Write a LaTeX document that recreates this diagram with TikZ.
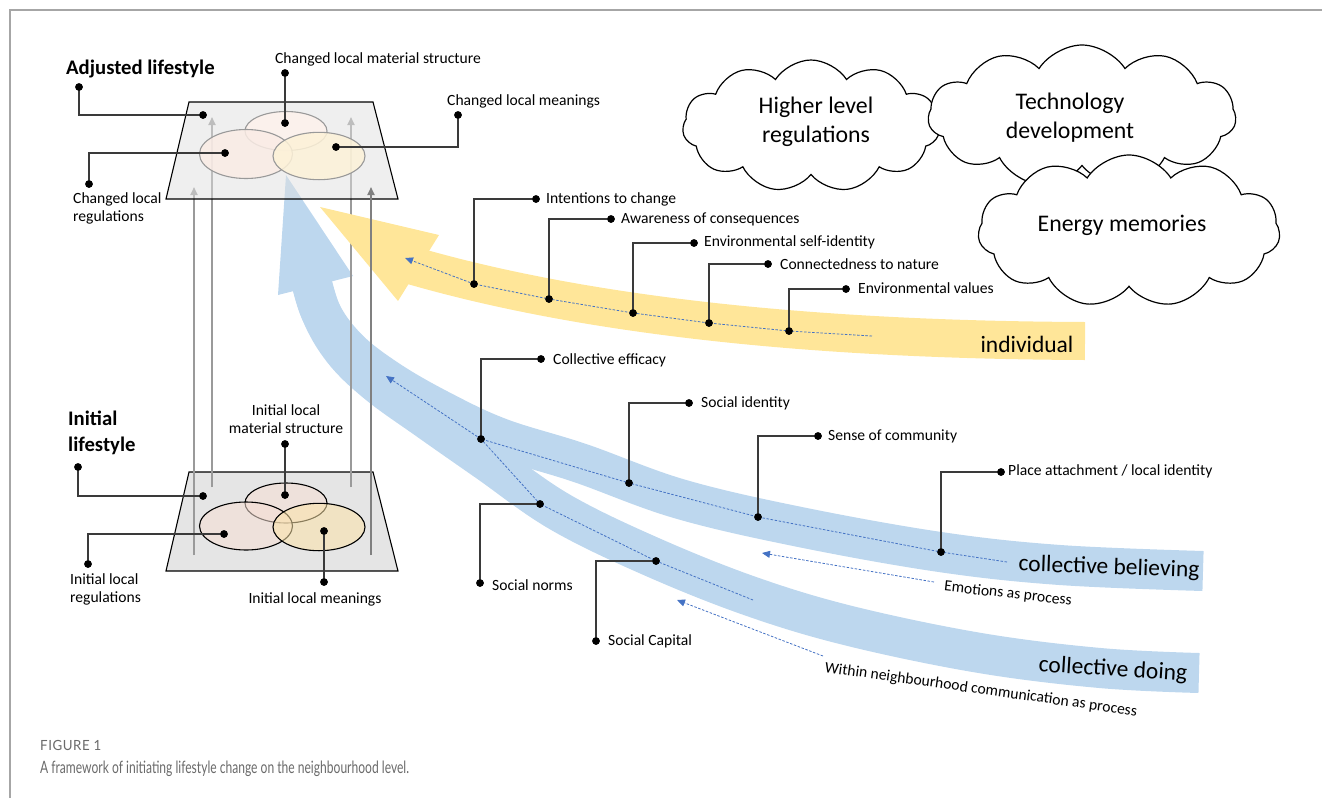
\documentclass[tikz,border=0pt]{standalone}
\usepackage{fontspec}
\setmainfont{Carlito}
\newfontfamily\capfont[FakeStretch=0.71]{Lato}
\newfontfamily\figfont[FakeStretch=0.95,LetterSpace=4]{Lato}
\usetikzlibrary{arrows.meta,shapes.symbols}
\definecolor{bblue}{HTML}{BDD7EE}
\definecolor{byel}{HTML}{FFE699}
\definecolor{dblue}{HTML}{4472C4}
\definecolor{framegray}{HTML}{A6A6A6}
\definecolor{vgray}{HTML}{9A9A9A}
\definecolor{leadc}{HTML}{3A3A3A}
\definecolor{capgray}{HTML}{6A6A6A}
\definecolor{ellA}{HTML}{F6DFD4}
\definecolor{ellB}{HTML}{FBE3A8}
\tikzset{
  dot/.style={circle,fill=black,inner sep=0pt,minimum size=7.5pt},
  leader/.style={draw=leadc,line width=1.2pt},
  lbl/.style={font=\fontsize{15.6}{18}\selectfont,inner sep=0pt,anchor=west},
  title/.style={font=\bfseries\fontsize{20.7}{26}\selectfont,inner sep=0pt,anchor=west,align=left},
  cloudtxt/.style={font=\fontsize{23.8}{29}\selectfont,align=center,inner sep=0pt},
  bandtxt/.style={font=\fontsize{23.5}{28}\selectfont,inner sep=0pt},
  dasharrow/.style={draw=dblue,line width=0.8pt,dash pattern=on 2.5pt off 1.6pt,-{Triangle[length=8pt,width=7pt]}},
  dashline/.style={draw=dblue,line width=0.8pt,dash pattern=on 2.5pt off 1.6pt},
  varrow/.style={draw=vgray,line width=1.8pt,-{Triangle[length=8pt,width=7pt]}},
  mycloud/.style={cloud,draw=black,line width=1.2pt,fill=white,cloud puffs=11,cloud puff arc=115,cloud ignores aspect,inner sep=0pt},
}
\begin{document}
\begin{tikzpicture}[x=1pt,y=-1pt]
\useasboundingbox (0,0) rectangle (1322,798);
% frame
\draw[framegray,line width=1.5pt] (10,798) -- (10,10) -- (1322,10);

% bottom trapezoid
\fill[fill=black!10,draw=black,line width=1.1pt] (189,472) -- (373,472) -- (398,571) -- (166,571) -- cycle;
\draw[black,line width=1.1pt,fill=ellA,fill opacity=0.55] (286,503) ellipse [x radius=41pt,y radius=20pt];
\draw[black,line width=1.1pt,fill=ellA,fill opacity=0.55] (246,526) ellipse [x radius=46.5pt,y radius=24pt];
\draw[black,line width=1.1pt,fill=ellB,fill opacity=0.55] (319,527) ellipse [x radius=46pt,y radius=23.7pt];

% blue bands
\fill[bblue] (286,175) -- (353,276) -- (278,295) -- cycle;
\draw[bblue,line width=40pt] plot[smooth,tension=0.6] coordinates {(306,258) (320,310) (347,348) (388,380) (440,410) (500,438) (580,463) (680,499) (800,527) (940,552) (1060,565) (1203,571)};
\draw[bblue,line width=40pt] plot[smooth,tension=0.6] coordinates {(306,258) (320,310) (343,350) (378,384) (428,420) (488,462) (560,512) (650,556) (750,596) (850,626) (980,653) (1100,668) (1199,673)};

% vertical arrows (behind)
\coordinate (va1) at (194,555); \coordinate (vb1) at (194,187);
\coordinate (va2) at (212,487); \coordinate (vb2) at (212,117);
\coordinate (va3) at (351,487); \coordinate (vb3) at (351,117);
\coordinate (va4) at (371,555); \coordinate (vb4) at (371,187);
\draw[varrow] (va1) -- (vb1);
\draw[varrow] (va2) -- (vb2);
\draw[varrow] (va3) -- (vb3);

% yellow band
\fill[byel] (320,207) -- (439,235) -- (398,301) -- cycle;
\draw[byel,line width=38pt] (400,262) .. controls (600,322) and (850,340) .. (1085,341);

% top trapezoid
\fill[fill=black!12,fill opacity=0.5] (189,102) -- (373,102) -- (398,199) -- (166,199) -- cycle;
\draw[black,line width=1.1pt] (189,102) -- (373,102) -- (398,199) -- (166,199) -- cycle;
\draw[black!40,line width=1.1pt,fill=ellA!45] (286,131) ellipse [x radius=41pt,y radius=19.5pt];
\draw[black!40,line width=1.1pt,fill=ellA!60,fill opacity=0.85] (246,154) ellipse [x radius=46.5pt,y radius=24.5pt];
\draw[black!40,line width=1.1pt,fill=ellB!45,fill opacity=0.85] (319,156) ellipse [x radius=46pt,y radius=23.7pt];
\draw[varrow,draw=black!50] (va4) -- (vb4);

% clouds
\node[mycloud,minimum width=257pt,minimum height=132pt] (c1) at (811,126) {};
\node[mycloud,minimum width=308pt,minimum height=142pt] (c2) at (1082,116) {};
\node[mycloud,minimum width=302pt,minimum height=152pt] (c3) at (1129,231) {};
\node[cloudtxt] (t1) at (816,122) {Higher level\\regulations};
\node[cloudtxt] (t2) at (1070,118) {Technology\\development};
\node[cloudtxt] (t3) at (1122,225) {Energy memories};

% titles
\node[title] (adj) at (66,69) {Adjusted lifestyle};
\node[title] (ini) at (68,433) {Initial\\lifestyle};

% dots top
\node[dot] (a1) at (79,87) {};
\node[dot] (a2) at (203,115) {};
\node[dot] (m1) at (285,73) {};
\node[dot] (m2) at (285,123) {};
\node[dot] (g1) at (458,115) {};
\node[dot] (g2) at (336,147) {};
\node[dot] (r1) at (89,184) {};
\node[dot] (r2) at (225,153) {};
% dots bottom
\node[dot] (b1) at (78,467) {};
\node[dot] (b2) at (203,496) {};
\node[dot] (bm1) at (285,444) {};
\node[dot] (bm2) at (285,495) {};
\node[dot] (br1) at (88,564) {};
\node[dot] (br2) at (224,534) {};
\node[dot] (bg1) at (324,582) {};
\node[dot] (bg2) at (324,531) {};

% individual dots
\node[dot] (i1) at (474,284) {};
\node[dot] (i2) at (549,299) {};
\node[dot] (i3) at (633,313) {};
\node[dot] (i4) at (709,323) {};
\node[dot] (i5) at (789,331) {};
\node[dot] (il1) at (536,199) {};
\node[dot] (il2) at (611,219) {};
\node[dot] (il3) at (694,243) {};
\node[dot] (il4) at (768,264) {};
\node[dot] (il5) at (846,289) {};
% collective dots
\node[dot] (ce) at (481,439) {};
\node[dot] (si) at (629,483) {};
\node[dot] (sc) at (758,517) {};
\node[dot] (pa) at (941,552) {};
\node[dot] (sn) at (540,504) {};
\node[dot] (sk) at (656,561) {};
\node[dot] (cel) at (541,359) {};
\node[dot] (sil) at (689,403) {};
\node[dot] (scl) at (818,436) {};
\node[dot] (pal) at (1001,472) {};
\node[dot] (snl) at (480,583) {};
\node[dot] (skl) at (596,641) {};

% dashed process lines
\coordinate (yEnd) at (872,336); \coordinate (yTip) at (405,258);
\coordinate (bEnd) at (1007,562); \coordinate (bTip) at (386,376);
\coordinate (dEnd) at (753,600);
\coordinate (eS) at (934,582); \coordinate (eT) at (762,553);
\coordinate (wS) at (823,656); \coordinate (wT) at (677,600);
\draw[dasharrow] (yEnd) -- (i5.center) -- (i4.center) -- (i3.center) -- (i2.center) -- (i1.center) -- (yTip);
\draw[dasharrow] (bEnd) -- (pa.center) -- (sc.center) -- (si.center) -- (ce.center) -- (bTip);
\draw[dashline] (dEnd) -- (sk.center) -- (sn.center) -- (ce.center);
\draw[dasharrow] (eS) -- (eT);
\draw[dasharrow] (wS) -- (wT);

% leaders
\draw[leader] (a1.center) |- (a2.center);
\draw[leader] (m1.center) -- (m2.center);
\draw[leader] (g1.center) |- (g2.center);
\draw[leader] (r1.center) |- (r2.center);
\draw[leader] (b1.center) |- (b2.center);
\draw[leader] (bm1.center) -- (bm2.center);
\draw[leader] (br1.center) |- (br2.center);
\draw[leader] (bg1.center) -- (bg2.center);
\draw[leader] (i1.center) |- (il1.center);
\draw[leader] (i2.center) |- (il2.center);
\draw[leader] (i3.center) |- (il3.center);
\draw[leader] (i4.center) |- (il4.center);
\draw[leader] (i5.center) |- (il5.center);
\draw[leader] (ce.center) |- (cel.center);
\draw[leader] (si.center) |- (sil.center);
\draw[leader] (sc.center) |- (scl.center);
\draw[leader] (pa.center) |- (pal.center);
\draw[leader] (sn.center) -| (snl.center);
\draw[leader] (sk.center) -| (skl.center);
% redraw dots on top
\foreach \n in {a1,a2,m1,m2,g1,g2,r1,r2,b1,b2,bm1,bm2,br1,br2,bg1,bg2,i1,i2,i3,i4,i5,il1,il2,il3,il4,il5,ce,si,sc,pa,sn,sk,cel,sil,scl,pal,snl,skl}
  \fill[black] (\n.center) circle[radius=3.75pt];

% labels
\node[lbl,anchor=center] (lm) at (378,59) {Changed local material structure};
\node[lbl] (lg) at (447,101) {Changed local meanings};
\node[lbl,align=left,anchor=north west] (lr) at (73,192) {Changed local\\regulations};
\node[lbl,align=center,anchor=center] (lbm) at (286,419) {Initial local\\material structure};
\node[lbl,align=left,anchor=north west] (lbr) at (70,573) {Initial local\\regulations};
\node[lbl,anchor=center] (lbg) at (315,599) {Initial local meanings};

\node[lbl] (li1) at (546,199) {Intentions to change};
\node[lbl] (li2) at (621,219) {Awareness of consequences};
\node[lbl] (li3) at (704,242) {Environmental self-identity};
\node[lbl] (li4) at (780,264) {Connectedness to nature};
\node[lbl] (li5) at (858,288) {Environmental values};
\node[lbl] (lce) at (553,360) {Collective efficacy};
\node[lbl] (lsi) at (701,403) {Social identity};
\node[lbl] (lsc) at (828,436) {Sense of community};
\node[lbl] (lpa) at (1008,471) {Place attachment / local identity};
\node[lbl] (lsn) at (492,585) {Social norms};
\node[lbl] (lsk) at (608,641) {Social Capital};

\node[bandtxt] (lind) at (1027,344) {individual};
\node[bandtxt,rotate=-2] (lcb) at (1109,568) {collective believing};
\node[bandtxt,rotate=-3.5] (lcd) at (1113,670) {collective doing};
\node[lbl,anchor=center,rotate=-6.5] (lem) at (1008,594) {Emotions as process};
\node[lbl,anchor=center,rotate=-8] (lwn) at (981,690) {Within neighbourhood communication as process};

% caption
\node[anchor=west,inner sep=0pt,text=capgray,font=\figfont\fontsize{14}{16}\selectfont] (fig) at (40,745) {FIGURE 1};
\node[anchor=west,inner sep=0pt,text=capgray,font=\capfont\fontsize{17}{20}\selectfont] (cap) at (40,769) {A framework of initiating lifestyle change on the neighbourhood level.};
\end{tikzpicture}
\end{document}
